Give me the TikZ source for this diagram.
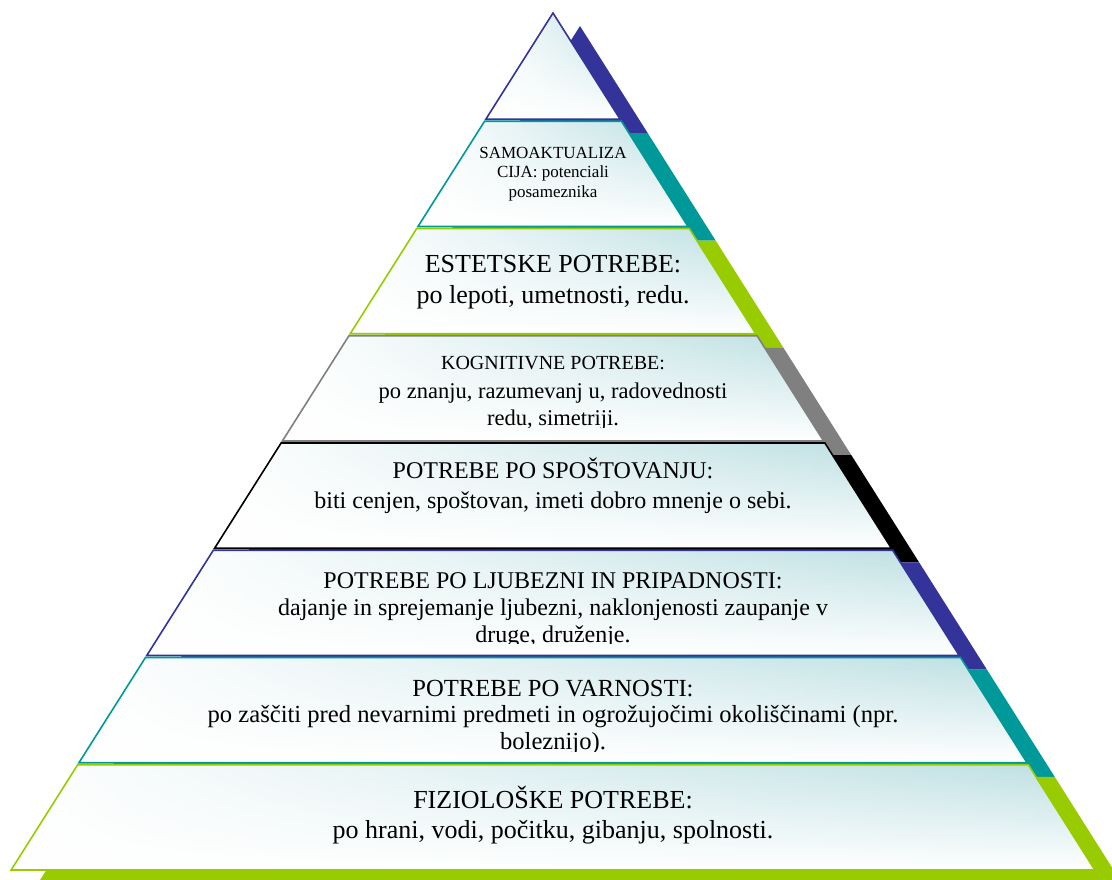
\documentclass[tikz,border=0pt]{standalone}
\usepackage{fontspec}
\setmainfont{Liberation Serif}
\usetikzlibrary{fadings}
\definecolor{cblue}{HTML}{333399}
\definecolor{cteal}{HTML}{009999}
\definecolor{cgreen}{HTML}{99CC00}
\definecolor{cgray}{HTML}{808080}
\definecolor{pblue}{HTML}{BCDFE2}
\tikzfading[name=whiteleft, left color=transparent!0, middle color=transparent!80, right color=transparent!100]
\tikzset{
  lvtext/.style={anchor=base, inner sep=0pt, text=black},
  fsA/.style={lvtext, font=\fontsize{26}{30}\selectfont},
  fsB/.style={lvtext, font=\fontsize{24}{28}\selectfont},
  fsBB/.style={lvtext, font=\fontsize{24.6}{28}\selectfont},
  fsC/.style={lvtext, font=\fontsize{20}{24}\selectfont},
  fsCC/.style={lvtext, font=\fontsize{22.5}{26}\selectfont},
  fsD/.style={lvtext, font=\fontsize{17}{20}\selectfont},
  bandline/.style={line width=1.6pt, line join=miter}
}
\begin{document}
\begin{tikzpicture}[x=1pt,y=-1pt]
\useasboundingbox (0,0) rectangle (1112,880);
\clip (0,0) rectangle (1112,880);
% shadows
\foreach \k/\c in {1/cblue,2/cteal,3/cgreen,4/cgray,5/black,6/cblue,7/cteal,8/cgreen}{
  \pgfmathsetmacro\yt{13+(\k-1)*107.25}
  \pgfmathsetmacro\yb{13+\k*107.25}
  \pgfmathsetmacro\xlt{553-0.63228*(\yt-13)}
  \pgfmathsetmacro\xrt{553+0.63228*(\yt-13)}
  \pgfmathsetmacro\xlb{553-0.63228*(\yb-13)}
  \pgfmathsetmacro\xrb{553+0.63228*(\yb-13)}
  \fill[\c, shift={(27,13)}] (\xlt,\yt) -- (\xrt,\yt) -- (\xrb,\yb) -- (\xlb,\yb) -- cycle;
}
% bands
\foreach \k/\c in {1/cblue,2/cteal,3/cgreen,4/cgray,5/black,6/cblue,7/cteal,8/cgreen}{
  \pgfmathsetmacro\yt{13+(\k-1)*107.25+ifthenelse(\k==1,0,1)}
  \pgfmathsetmacro\yb{13+\k*107.25-1}
  \pgfmathsetmacro\xlt{553-0.63228*(\yt-13)}
  \pgfmathsetmacro\xrt{553+0.63228*(\yt-13)}
  \pgfmathsetmacro\xlb{553-0.63228*(\yb-13)}
  \pgfmathsetmacro\xrb{553+0.63228*(\yb-13)}
  \fill[top color=pblue, bottom color=white] (\xlt,\yt) -- (\xrt,\yt) -- (\xrb,\yb) -- (\xlb,\yb) -- cycle;
  \fill[white, path fading=whiteleft] (\xlt,\yt) -- (\xrt,\yt) -- (\xrb,\yb) -- (\xlb,\yb) -- cycle;
  \draw[bandline, \c] (\xlt,\yt) -- (\xrt,\yt) -- (\xrb,\yb) -- (\xlb,\yb) -- cycle;
}
% level 2
\node[fsD] (t2a) at (553,159) {SAMOAKTUALIZA};
\node[fsD] (t2b) at (553,178) {CIJA: potenciali};
\node[fsD] (t2c) at (553,197) {posameznika};
% level 3
\node[fsA] (t3a) at (553,272) {ESTETSKE POTREBE:};
\node[fsA] (t3b) at (553,303) {po lepoti, umetnosti, redu.};
% level 4
\node[fsC] (t4a) at (553,369) {KOGNITIVNE POTREBE:};
\node[fsCC] (t4b) at (553,398) {po znanju, razumevanj u, radovednosti};
\begin{scope}
\clip (0,0) rectangle (1112,427);
\node[fsCC] (t4c) at (553,425) {redu, simetriji.};
\end{scope}
% level 5
\node[fsB] (t5a) at (553,478) {POTREBE PO SPOŠTOVANJU:};
\node[fsB] (t5b) at (553,508) {biti cenjen, spoštovan, imeti dobro mnenje o sebi.};
% level 6
\node[fsB] (t6a) at (553,588) {POTREBE PO LJUBEZNI IN PRIPADNOSTI:};
\node[fsB] (t6b) at (553,615) {dajanje in sprejemanje ljubezni, naklonjenosti zaupanje v};
\begin{scope}
\clip (0,0) rectangle (1112,643);
\node[fsB] (t6c) at (553,642) {druge, druženje.};
\end{scope}
% level 7
\node[fsBB] (t7a) at (553,696) {POTREBE PO VARNOSTI:};
\node[fsBB] (t7b) at (553,722) {po zaščiti pred nevarnimi predmeti in ogrožujočimi okoliščinami (npr.};
\begin{scope}
\clip (0,0) rectangle (1112,751);
\node[fsBB] (t7c) at (553,749) {boleznijo).};
\end{scope}
% level 8
\node[fsA] (t8a) at (553,808) {FIZIOLOŠKE POTREBE:};
\node[fsA] (t8b) at (553,838) {po hrani, vodi, počitku, gibanju, spolnosti.};
\end{tikzpicture}
\end{document}
